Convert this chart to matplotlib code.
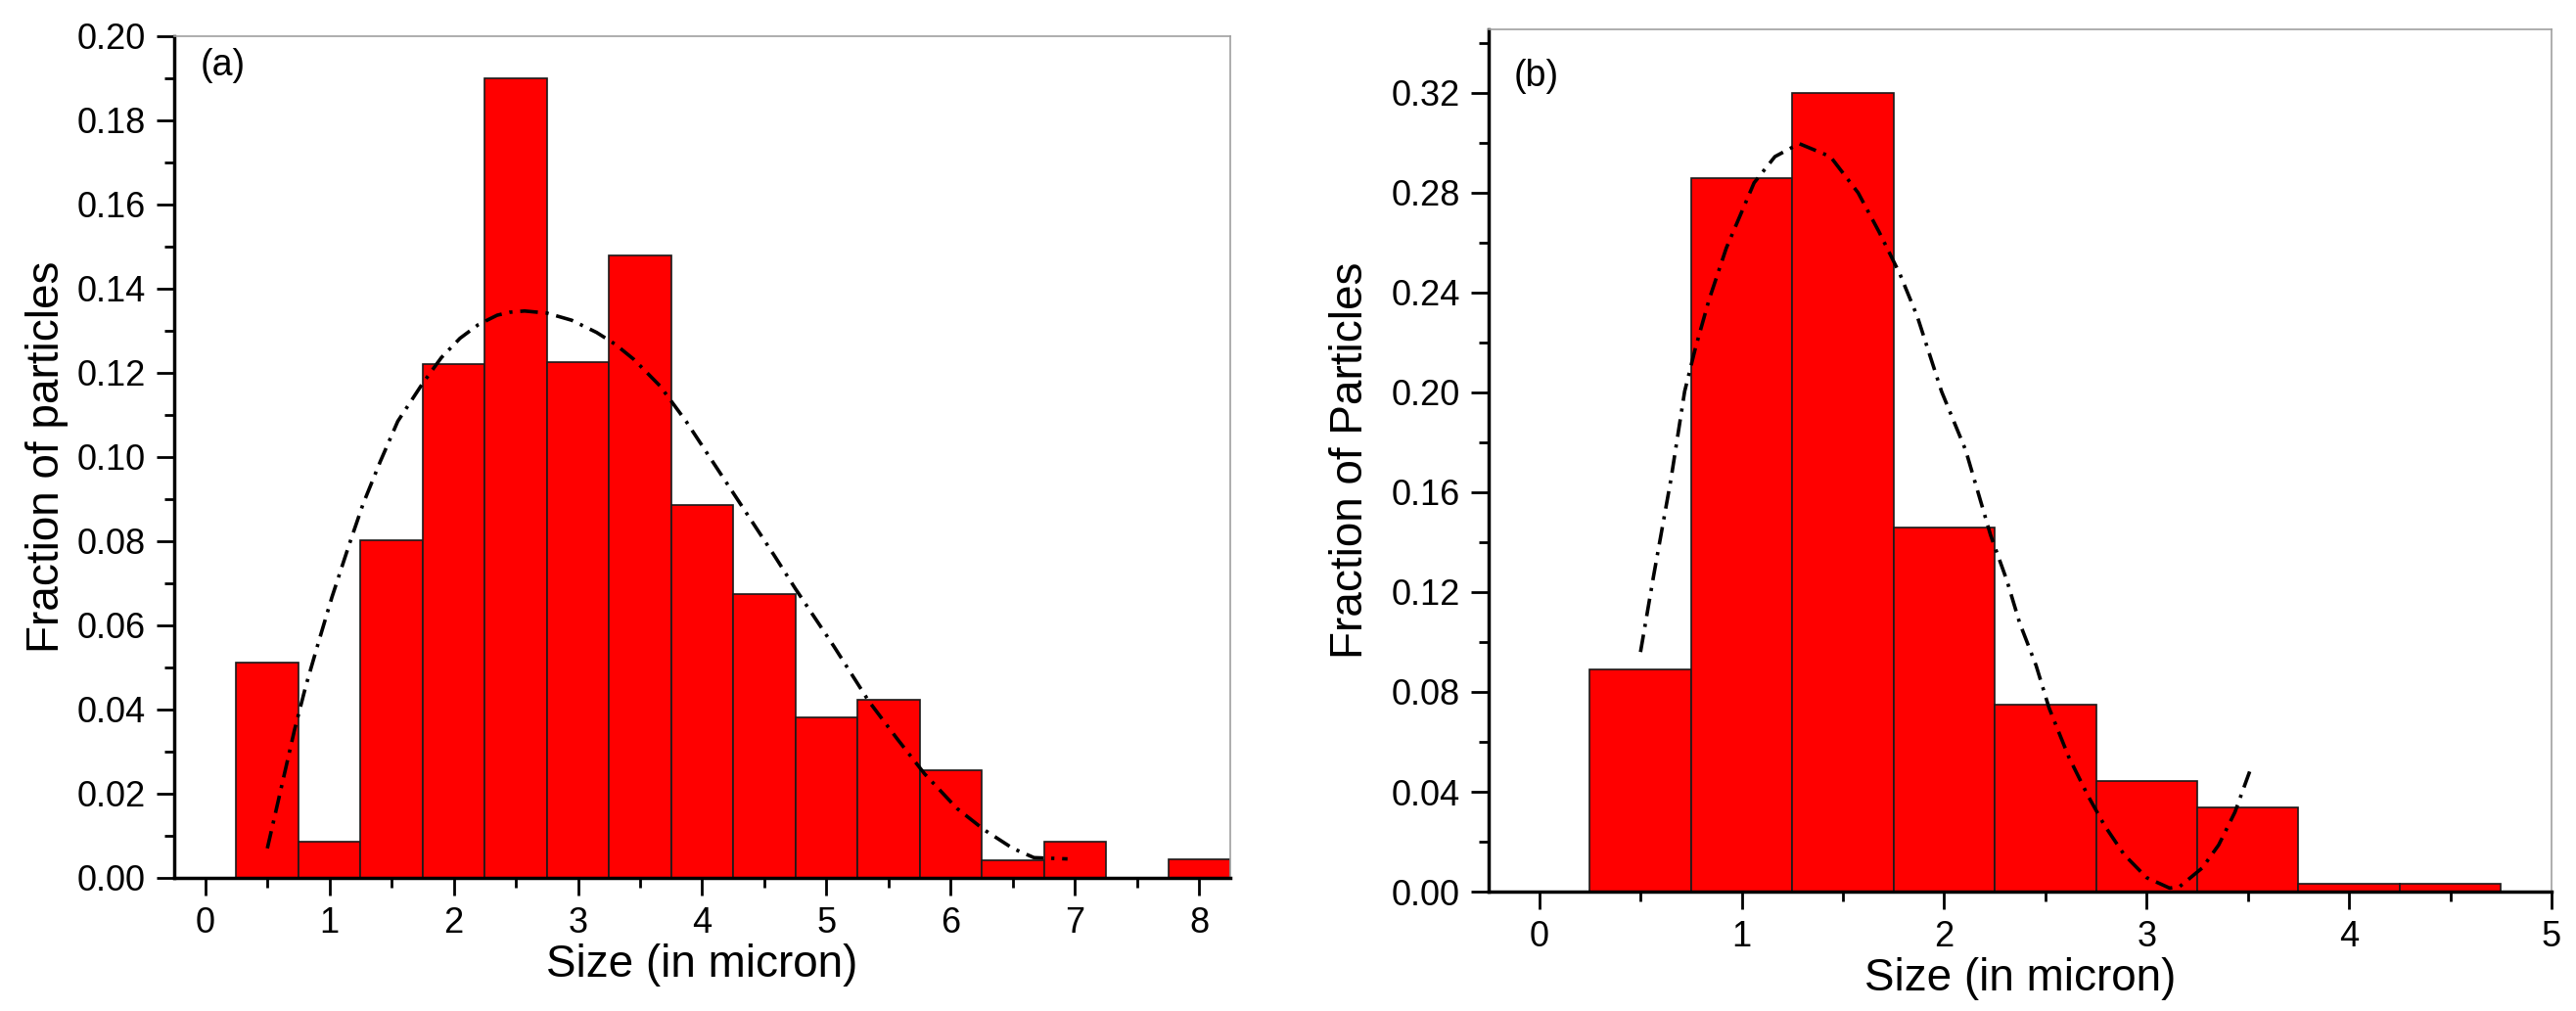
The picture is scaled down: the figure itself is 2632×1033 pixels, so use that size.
"""Particle size distributions, panels (a) and (b): histogram bars + fitted curve."""
import matplotlib
matplotlib.use("Agg")
import matplotlib.pyplot as plt
from matplotlib.ticker import MultipleLocator, FormatStrFormatter

plt.rcParams["font.family"] = ["Liberation Sans", "DejaVu Sans"]

# ---------------------------------------------------------------------------
# Data
# ---------------------------------------------------------------------------
BIN_WIDTH = 0.5

size_a = [0.5, 1.0, 1.5, 2.0, 2.5, 3.0, 3.5, 4.0, 4.5, 5.0, 5.5, 6.0, 6.5, 7.0, 7.5, 8.0]
frac_a = [0.0512, 0.0087, 0.0802, 0.1222, 0.1900, 0.1225, 0.1479, 0.0887,
          0.0674, 0.0381, 0.0422, 0.0255, 0.0041, 0.0087, 0.0, 0.0043]

fit_x_a = [0.50, 0.72, 0.81, 0.91, 1.02, 1.16, 1.27, 1.41, 1.55, 1.75, 1.90,
           2.05, 2.20, 2.35, 2.45, 2.57, 2.75, 2.95, 3.15, 3.30, 3.45, 3.66,
           3.87, 4.30, 4.58, 4.75, 5.06, 5.34, 5.57, 5.79, 6.05, 6.27, 6.50,
           6.67, 6.94]
fit_y_a = [0.0070, 0.0353, 0.0456, 0.0558, 0.0667, 0.0793, 0.0888, 0.0990,
           0.1085, 0.1175, 0.1236, 0.1282, 0.1315, 0.1337, 0.1344, 0.1347,
           0.1342, 0.1325, 0.1296, 0.1268, 0.1232, 0.1169, 0.1085, 0.0892,
           0.0766, 0.0687, 0.0550, 0.0420, 0.0330, 0.0247, 0.0165, 0.0114,
           0.0070, 0.0048, 0.0045]

size_b = [0.5, 1.0, 1.5, 2.0, 2.5, 3.0, 3.5, 4.0, 4.5]
frac_b = [0.0889, 0.2860, 0.3200, 0.1460, 0.0750, 0.0442, 0.0339, 0.0033, 0.0033]

fit_x_b = [0.50, 0.564, 0.650, 0.718, 0.770, 0.838, 0.924, 1.061, 1.164,
           1.284, 1.438, 1.575, 1.678, 1.781, 1.867, 1.987, 2.106, 2.229,
           2.310, 2.373, 2.454, 2.518, 2.615, 2.711, 2.792, 2.889, 3.000,
           3.114, 3.163, 3.275, 3.356, 3.436, 3.509]
fit_y_b = [0.0960, 0.1262, 0.1650, 0.2004, 0.2174, 0.2370, 0.2579, 0.2840,
           0.2945, 0.2997, 0.2945, 0.2800, 0.2644, 0.2475, 0.2305, 0.2004,
           0.1769, 0.1429, 0.1246, 0.1076, 0.0906, 0.0736, 0.0540, 0.0383,
           0.0265, 0.0148, 0.0056, 0.0014, 0.0020, 0.0095, 0.0187, 0.0318,
           0.0481]

# ---------------------------------------------------------------------------
# Styling
# ---------------------------------------------------------------------------
TICK_FS = 26
LABEL_FS = 33
FIT_STYLE = (0, (5.0, 2.2, 0.9, 2.2))


def _style_axes(ax, xmajor, ymajor, yminor):
    for side in ("left", "bottom"):
        ax.spines[side].set_linewidth(2.5)
        ax.spines[side].set_color("black")
    for side in ("top", "right"):
        ax.spines[side].set_linewidth(1.2)
        ax.spines[side].set_color("#a0a0a0")
    ax.xaxis.set_major_locator(MultipleLocator(xmajor))
    ax.xaxis.set_minor_locator(MultipleLocator(xmajor / 2))
    ax.yaxis.set_major_locator(MultipleLocator(ymajor))
    ax.yaxis.set_minor_locator(MultipleLocator(yminor))
    ax.yaxis.set_major_formatter(FormatStrFormatter("%.2f"))
    ax.tick_params(which="both", direction="out", top=False, right=False,
                   width=2, labelsize=TICK_FS)
    ax.tick_params(which="major", length=13, pad=8)
    ax.tick_params(which="minor", length=7)


def _panel(ax, sizes, fracs, fit_x, fit_y):
    ax.bar(sizes, fracs, width=BIN_WIDTH, color="#ff0000",
           edgecolor="#1a1a1a", linewidth=1.2, zorder=2)
    ax.plot(fit_x, fit_y, color="black", linewidth=2.6,
            linestyle=FIT_STYLE, zorder=3)


fig = plt.figure(figsize=(26.32, 10.33), dpi=100)

# (a)
ax_a = fig.add_axes([0.0676, 0.1317, 0.4100, 0.8325])
_panel(ax_a, size_a, frac_a, fit_x_a, fit_y_a)
ax_a.set_xlim(-0.25, 8.25)
ax_a.set_ylim(0, 0.20)
_style_axes(ax_a, 1, 0.02, 0.01)
ax_a.set_xlabel("Size (in micron)", fontsize=LABEL_FS, labelpad=2)
ax_a.set_ylabel("Fraction of particles", fontsize=LABEL_FS, labelpad=6)
ax_a.text(0.025, 0.965, "(a)", transform=ax_a.transAxes, fontsize=27,
          ha="left", va="center")

# (b)
ax_b = fig.add_axes([0.5779, 0.1181, 0.4126, 0.8529])
_panel(ax_b, size_b, frac_b, fit_x_b, fit_y_b)
ax_b.set_xlim(-0.25, 5.0)
ax_b.set_ylim(0, 0.3455)
_style_axes(ax_b, 1, 0.04, 0.02)
ax_b.set_xlabel("Size (in micron)", fontsize=LABEL_FS, labelpad=2)
ax_b.set_ylabel("Fraction of Particles", fontsize=LABEL_FS, labelpad=14)
ax_b.text(0.024, 0.9455, "(b)", transform=ax_b.transAxes, fontsize=27,
          ha="left", va="center")

fig.savefig("out.png", dpi=100)
plt.close(fig)
